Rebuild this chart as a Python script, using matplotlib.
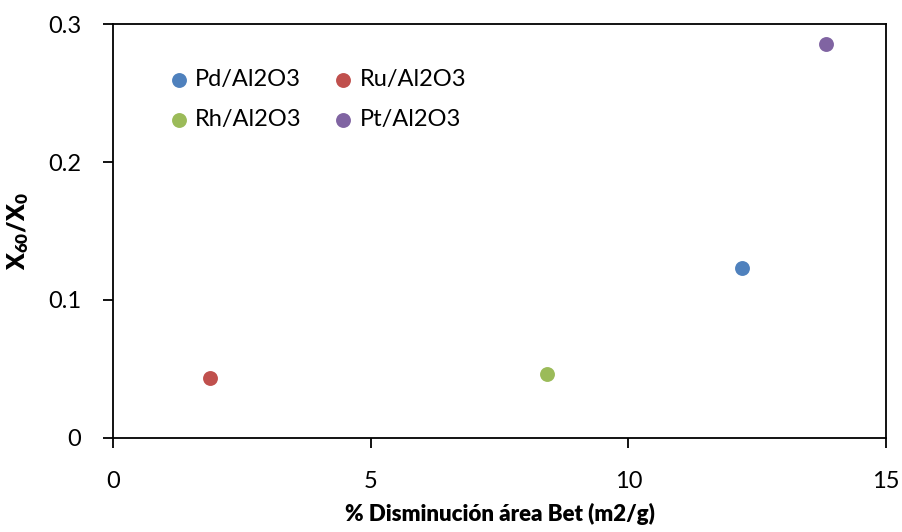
import matplotlib
matplotlib.use("Agg")
import matplotlib.pyplot as plt

plt.rcParams['font.family'] = ['Lato', 'DejaVu Sans']
plt.rcParams['mathtext.default'] = 'regular'

catalysts = ["Pd/Al2O3", "Ru/Al2O3", "Rh/Al2O3", "Pt/Al2O3"]
x_values = [12.2, 1.88, 8.43, 13.83]
y_values = [0.123, 0.043, 0.046, 0.2855]
colors = ["#4F81BD", "#C0504D", "#9BBB59", "#8064A2"]
x_ticks = [0, 5, 10, 15]
y_ticks = [0, 0.1, 0.2, 0.3]
y_tick_labels = ["0", "0.1", "0.2", "0.3"]

fig = plt.figure(figsize=(9.03, 5.32), dpi=100)
ax = fig.add_axes([0.1251, 0.1776, 0.8561, 0.7764])

handles = {}
for name, xv, yv, c in zip(catalysts, x_values, y_values, colors):
    handles[name] = ax.scatter([xv], [yv], s=115, color=c, label=name, zorder=3, linewidths=0)

ax.set_xlim(0, 15)
ax.set_ylim(0, 0.3)
ax.set_xticks(x_ticks)
ax.set_xticklabels([str(t) for t in x_ticks])
ax.set_yticks(y_ticks)
ax.set_yticklabels(y_tick_labels)
ax.tick_params(axis='both', direction='out', length=7, width=1.3, labelsize=17, colors='black')
ax.tick_params(axis='y', pad=16)
ax.tick_params(axis='x', pad=17)
for s in ax.spines.values():
    s.set_linewidth(1.3)
    s.set_color('black')

ax.set_xlabel("% Disminución área Bet (m2/g)", fontsize=16, fontweight='heavy', labelpad=8)
ax.set_ylabel(r"$X_{60}/X_{0}$", fontsize=17.5, fontweight='heavy')
ax.yaxis.set_label_coords(-0.106, 0.5)

order = ["Pd/Al2O3", "Rh/Al2O3", "Ru/Al2O3", "Pt/Al2O3"]
ax.legend([handles[n] for n in order], order, ncol=2, loc='upper left',
          bbox_to_anchor=(0.039, 0.943), frameon=False, fontsize=17,
          handletextpad=0.1, columnspacing=1.15, labelspacing=0.8,
          handlelength=1.2, borderaxespad=0.5)

fig.savefig("out.png", dpi=100)
